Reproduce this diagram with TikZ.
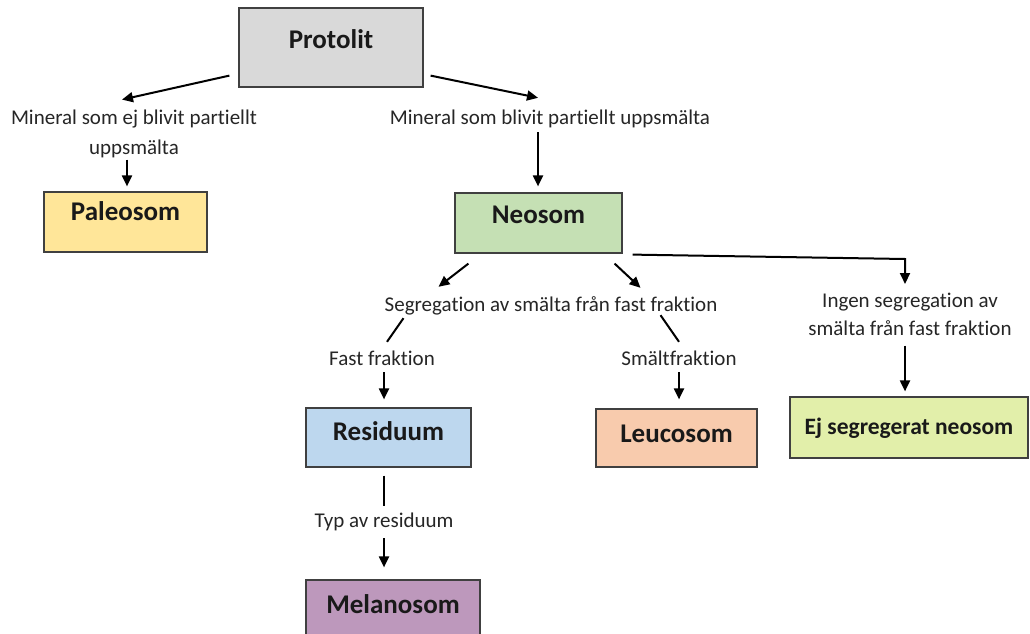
\documentclass[tikz,border=0pt]{standalone}
\usepackage{fontspec}
\setmainfont{Carlito}[Ligatures=NoCommon]
\usetikzlibrary{arrows.meta}
\definecolor{cproto}{HTML}{D9D9D9}
\definecolor{cpaleo}{HTML}{FFE699}
\definecolor{cneo}{HTML}{C5E0B4}
\definecolor{cresid}{HTML}{BDD7EE}
\definecolor{cleuco}{HTML}{F8CBAD}
\definecolor{cejseg}{HTML}{E2EFAA}
\definecolor{cmela}{HTML}{BD98BC}
\definecolor{cborder}{HTML}{404040}
\definecolor{ctext}{HTML}{262626}
\begin{document}
\begin{tikzpicture}[x=1pt,y=-1pt,
  box/.style={draw=cborder, line width=1.2pt, rectangle, inner sep=0pt,
    font=\fontsize{27}{31}\selectfont\bfseries, text=black!90, text height=17pt},
  lbl/.style={inner sep=0pt, font=\fontsize{21}{30}\selectfont, text=ctext, align=center},
  one/.style={lbl, anchor=base, text height=14pt, text depth=5pt},
  arr/.style={line width=2pt, -{Triangle[length=11pt,width=10pt]}},
  ln/.style={line width=2pt}]
\useasboundingbox (0,0) rectangle (1030,634);
\fill[white] (0,0) rectangle (1030,634);

% boxes
\node[box, fill=cproto, minimum width=184pt, minimum height=79pt, text depth=15pt] (proto) at (331,47.5) {Protolit};
\node[box, fill=cpaleo, minimum width=163pt, minimum height=60pt, text depth=21pt] (paleo) at (125.5,222) {Paleosom};
\node[box, fill=cneo, minimum width=167pt, minimum height=60pt, text depth=17pt] (neo) at (538.5,223) {Neosom};
\node[box, fill=cresid, minimum width=165pt, minimum height=59pt, text depth=11pt] (resid) at (388.5,437.5) {Residuum};
\node[box, fill=cleuco, minimum width=161pt, minimum height=58pt, text depth=9pt] (leuco) at (676.5,438) {Leucosom};
\node[box, fill=cejseg, minimum width=238pt, minimum height=61pt, font=\fontsize{23.5}{27}\selectfont\bfseries, text height=16pt, text depth=3pt] (ejseg) at (909,427.5) {Ej segregerat neosom};
\node[box, fill=cmela, minimum width=174pt, minimum height=60pt, text depth=11pt] (mela) at (393,610) {Melanosom};

% labels
\node[lbl] (lblA) at (134,133.5) {Mineral som ej blivit partiellt\\uppsmälta};
\node[one] (lblB) at (550,124) {Mineral som blivit partiellt uppsmälta};
\node[one] (lblC) at (551,311) {Segregation av smälta från fast fraktion};
\node[one] (lblD) at (382,365) {Fast fraktion};
\node[one] (lblE) at (679,365) {Smältfraktion};
\node[lbl, font=\fontsize{21}{28}\selectfont] (lblF) at (910,314) {Ingen segregation av\\smälta från fast fraktion};
\node[one] (lblG) at (384,527) {Typ av residuum};

\coordinate (bend) at (905,259);

% connectors
\draw[arr] ([shift={(-9,-12)}]proto.south west) -- ([shift={(-12,-9.7)}]lblA.north);
\draw[arr] ([shift={(7,-12)}]proto.south east) -- ([shift={(-12,-12)}]lblB.north);
\draw[arr] ([shift={(-7,2)}]lblA.south) -- ([shift={(1.5,-5)}]paleo.north);
\draw[arr] ([shift={(-12,3)}]lblB.south) -- ([shift={(-0.5,-6)}]neo.north);
\draw[arr] ([shift={(14,10)}]neo.south west) -- ([shift={(54,-10)}]lblC.north west);
\draw[arr] ([shift={(-8,10)}]neo.south east) -- ([shift={(-77,-9)}]lblC.north east);
\draw[ln] ([shift={(19,2)}]lblC.south west) -- ([shift={(5,-9)}]lblD.north);
\draw[ln] ([shift={(-57,-1)}]lblC.south east) -- ([shift={(0,-9)}]lblE.north);
\draw[arr] ([shift={(2,2)}]lblD.south) -- ([shift={(-4.5,-8)}]resid.north);
\draw[arr] ([shift={(0,2)}]lblE.south) -- ([shift={(2.5,-9)}]leuco.north);
\draw[arr] ([shift={(10,1)}]neo.south east) -- (bend) -- ([shift={(-5,-8.5)}]lblF.north);
\draw[arr] ([shift={(-5,10)}]lblF.south) -- ([shift={(-4,-5)}]ejseg.north);
\draw[ln] ([shift={(-4.5,8)}]resid.south) -- ([shift={(0,-7)}]lblG.north);
\draw[arr] ([shift={(0,6)}]lblG.south) -- ([shift={(-9,-12)}]mela.north);
\end{tikzpicture}
\end{document}
